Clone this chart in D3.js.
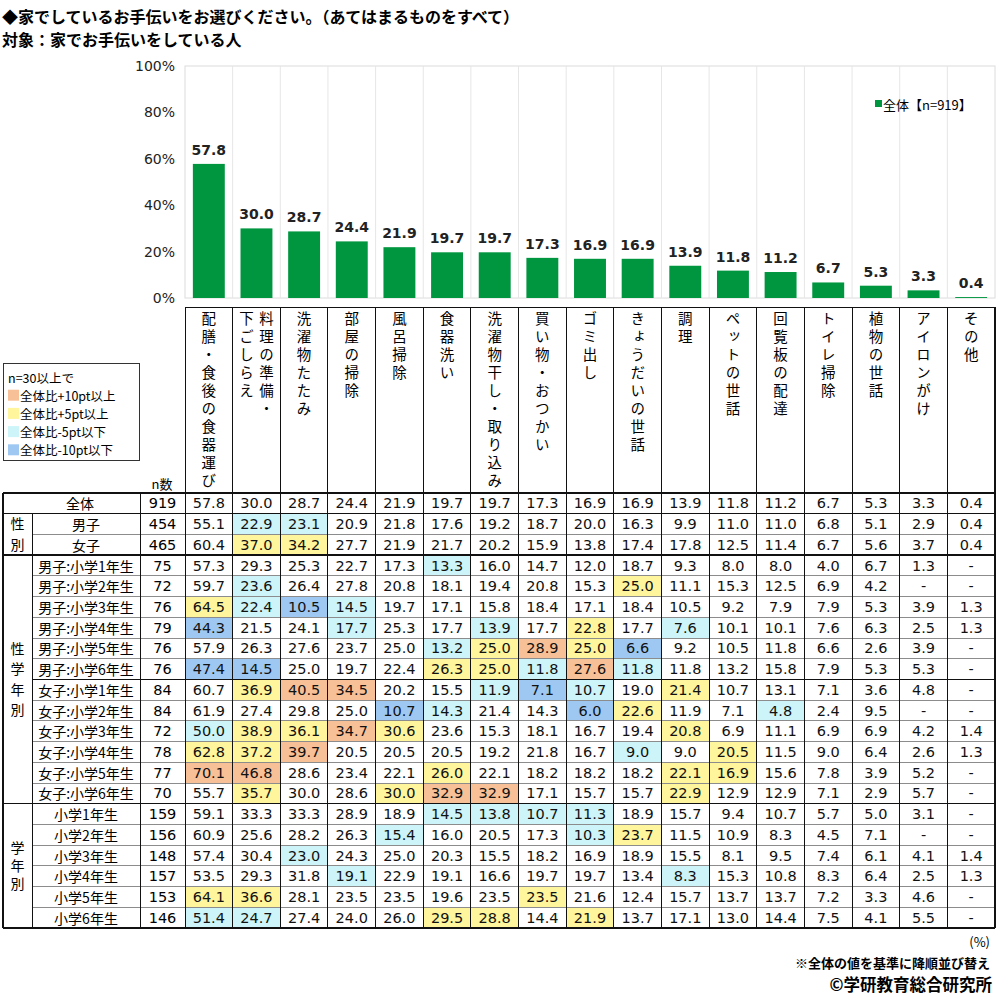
<!DOCTYPE html>
<html>
<head>
<meta charset="utf-8">
<script src="https://cdn.jsdelivr.net/npm/d3@7"></script>
<style>
  body { margin: 0; background: #fff; }
  svg { font-family: "Noto Sans CJK JP", "Noto Sans", sans-serif; }
  .num { font-family: "DejaVu Sans", "Noto Sans", sans-serif; }
  .vert { writing-mode: vertical-rl; }
</style>
</head>
<body>
<div id="chart"></div>
<script>
// categories, sorted by the total value
const categories = ["配膳・食後の食器運び", "料理の準備・下ごしらえ", "洗濯物たたみ", "部屋の掃除", "風呂掃除",
  "食器洗い", "洗濯物干し・取り込み", "買い物・おつかい", "ゴミ出し", "きょうだいの世話", "調理",
  "ペットの世話", "回覧板の配達", "トイレ掃除", "植物の世話", "アイロンがけ", "その他"]
// header columns; "|" splits a header into two vertical lines (right one first)
const headerLabels = ["配膳・食後の食器運び", "料理の準備・|下ごしらえ", "洗濯物たたみ", "部屋の掃除", "風呂掃除",
  "食器洗い", "洗濯物干し・取り込み", "買い物・おつかい", "ゴミ出し", "きょうだいの世話", "調理",
  "ペットの世話", "回覧板の配達", "トイレ掃除", "植物の世話", "アイロンがけ", "その他"]

const totalValues = [57.8, 30.0, 28.7, 24.4, 21.9, 19.7, 19.7, 17.3, 16.9, 16.9, 13.9, 11.8, 11.2, 6.7, 5.3, 3.3, 0.4]
const yTicks = [0, 20, 40, 60, 80, 100]

const rowLabels = ["全体", "男子", "女子",
  "男子:小学1年生", "男子:小学2年生", "男子:小学3年生", "男子:小学4年生", "男子:小学5年生", "男子:小学6年生",
  "女子:小学1年生", "女子:小学2年生", "女子:小学3年生", "女子:小学4年生", "女子:小学5年生", "女子:小学6年生",
  "小学1年生", "小学2年生", "小学3年生", "小学4年生", "小学5年生", "小学6年生"]
const rowN = [919, 454, 465, 75, 72, 76, 79, 76, 76, 84, 84, 72, 78, 77, 70, 159, 156, 148, 157, 153, 146]

// null = "-"
const rowValues = [
  totalValues,
  [55.1, 22.9, 23.1, 20.9, 21.8, 17.6, 19.2, 18.7, 20.0, 16.3, 9.9, 11.0, 11.0, 6.8, 5.1, 2.9, 0.4],
  [60.4, 37.0, 34.2, 27.7, 21.9, 21.7, 20.2, 15.9, 13.8, 17.4, 17.8, 12.5, 11.4, 6.7, 5.6, 3.7, 0.4],
  [57.3, 29.3, 25.3, 22.7, 17.3, 13.3, 16.0, 14.7, 12.0, 18.7, 9.3, 8.0, 8.0, 4.0, 6.7, 1.3, null],
  [59.7, 23.6, 26.4, 27.8, 20.8, 18.1, 19.4, 20.8, 15.3, 25.0, 11.1, 15.3, 12.5, 6.9, 4.2, null, null],
  [64.5, 22.4, 10.5, 14.5, 19.7, 17.1, 15.8, 18.4, 17.1, 18.4, 10.5, 9.2, 7.9, 7.9, 5.3, 3.9, 1.3],
  [44.3, 21.5, 24.1, 17.7, 25.3, 17.7, 13.9, 17.7, 22.8, 17.7, 7.6, 10.1, 10.1, 7.6, 6.3, 2.5, 1.3],
  [57.9, 26.3, 27.6, 23.7, 25.0, 13.2, 25.0, 28.9, 25.0, 6.6, 9.2, 10.5, 11.8, 6.6, 2.6, 3.9, null],
  [47.4, 14.5, 25.0, 19.7, 22.4, 26.3, 25.0, 11.8, 27.6, 11.8, 11.8, 13.2, 15.8, 7.9, 5.3, 5.3, null],
  [60.7, 36.9, 40.5, 34.5, 20.2, 15.5, 11.9, 7.1, 10.7, 19.0, 21.4, 10.7, 13.1, 7.1, 3.6, 4.8, null],
  [61.9, 27.4, 29.8, 25.0, 10.7, 14.3, 21.4, 14.3, 6.0, 22.6, 11.9, 7.1, 4.8, 2.4, 9.5, null, null],
  [50.0, 38.9, 36.1, 34.7, 30.6, 23.6, 15.3, 18.1, 16.7, 19.4, 20.8, 6.9, 11.1, 6.9, 6.9, 4.2, 1.4],
  [62.8, 37.2, 39.7, 20.5, 20.5, 20.5, 19.2, 21.8, 16.7, 9.0, 9.0, 20.5, 11.5, 9.0, 6.4, 2.6, 1.3],
  [70.1, 46.8, 28.6, 23.4, 22.1, 26.0, 22.1, 18.2, 18.2, 18.2, 22.1, 16.9, 15.6, 7.8, 3.9, 5.2, null],
  [55.7, 35.7, 30.0, 28.6, 30.0, 32.9, 32.9, 17.1, 15.7, 15.7, 22.9, 12.9, 12.9, 7.1, 2.9, 5.7, null],
  [59.1, 33.3, 33.3, 28.9, 18.9, 14.5, 13.8, 10.7, 11.3, 18.9, 15.7, 9.4, 10.7, 5.7, 5.0, 3.1, null],
  [60.9, 25.6, 28.2, 26.3, 15.4, 16.0, 20.5, 17.3, 10.3, 23.7, 11.5, 10.9, 8.3, 4.5, 7.1, null, null],
  [57.4, 30.4, 23.0, 24.3, 25.0, 20.3, 15.5, 18.2, 16.9, 18.9, 15.5, 8.1, 9.5, 7.4, 6.1, 4.1, 1.4],
  [53.5, 29.3, 31.8, 19.1, 22.9, 19.1, 16.6, 19.7, 19.7, 13.4, 8.3, 15.3, 10.8, 8.3, 6.4, 2.5, 1.3],
  [64.1, 36.6, 28.1, 23.5, 23.5, 19.6, 23.5, 23.5, 21.6, 12.4, 15.7, 13.7, 13.7, 7.2, 3.3, 4.6, null],
  [51.4, 24.7, 27.4, 24.0, 26.0, 29.5, 28.8, 14.4, 21.9, 13.7, 17.1, 13.0, 14.4, 7.5, 4.1, 5.5, null]
]

// highlight: o=+10pt, y=+5pt, c=-5pt, b=-10pt, .=none
const rowMarks = [
  ".................",
  ".cc..............",
  ".yy..............",
  ".....c...........",
  ".c.......y.......",
  "ycbc.............",
  "b..c..c.y.c......",
  ".....cyoyb.......",
  "bb...yycoc.......",
  ".yoo..cbc.y......",
  "....bc..by..c....",
  "cyyoy.....y......",
  "yyo......c.y.....",
  "oo...y....yy.....",
  ".y..yoo...y......",
  ".....cccc........",
  "....c...cy.......",
  "..c..............",
  "...c......c......",
  "yy.....y.........",
  "cc...yy.y........"
]

const groups = [
  { label: "", start: 0, end: 0, step: 0 },
  { label: "性別", start: 1, end: 2, step: 20.7 },
  { label: "性学年別", start: 3, end: 14, step: 20.5 },
  { label: "学年別", start: 15, end: 20, step: 18 }
]
// extra black separator inside a group (between 男子 and 女子 grades)
const blackSeparators = [9]

const legendItems = [
  { key: "o", label: "全体比+10pt以上" },
  { key: "y", label: "全体比+5pt以上" },
  { key: "c", label: "全体比-5pt以下" },
  { key: "b", label: "全体比-10pt以下" }
]

const markColor = { o: "#f8c097", y: "#fff59c", c: "#cdf5f9", b: "#9ec8f2" }
const green = "#00963f"

const W = 1000, H = 997
const left = 185, right = 995

const svg = d3.select("#chart").append("svg")
  .attr("width", W)
  .attr("height", H)

// titles
svg.append("text").attr("x", 2).attr("y", 15.5).attr("dominant-baseline", "central")
  .attr("font-size", 16).attr("font-weight", "bold")
  .text("◆家でしているお手伝いをお選びください。（あてはまるものをすべて）")
svg.append("text").attr("x", 2).attr("y", 39).attr("dominant-baseline", "central")
  .attr("font-size", 16).attr("font-weight", "bold")
  .text("対象：家でお手伝いをしている人")

// ---- bar chart ----
const x = d3.scaleBand().domain(categories).range([left, right])
const xBar = d3.scaleBand().domain(categories).range([left, right])
  .paddingInner(0.33).paddingOuter(0.165)
const y = d3.scaleLinear().domain([0, 100]).range([298, 66])

svg.append("rect")
  .attr("x", left).attr("y", y(100))
  .attr("width", right - left).attr("height", y(0) - y(100))
  .attr("fill", "none").attr("stroke", "#dcdcdc")

svg.append("g").selectAll("line")
  .data(categories.slice(1))
  .enter().append("line")
  .attr("x1", d => x(d)).attr("x2", d => x(d))
  .attr("y1", y(100)).attr("y2", y(0))
  .attr("stroke", "#e6e6e6")

const yAxis = svg.append("g")
  .attr("transform", "translate(" + left + ",0)")
  .call(d3.axisLeft(y).tickValues(yTicks).tickSize(0).tickPadding(10).tickFormat(d => d + "%"))
yAxis.select(".domain").remove()
yAxis.selectAll("text")
  .attr("class", "num")
  .attr("font-size", 14)
  .attr("font-family", null)
  .attr("fill", "#222")

svg.append("g").selectAll("rect")
  .data(totalValues)
  .enter().append("rect")
  .attr("x", (d, i) => xBar(categories[i]))
  .attr("y", d => y(d))
  .attr("width", xBar.bandwidth())
  .attr("height", d => y(0) - y(d))
  .attr("fill", green)

svg.append("g").selectAll("text")
  .data(totalValues)
  .enter().append("text")
  .attr("class", "num")
  .attr("x", (d, i) => x(categories[i]) + x.bandwidth() / 2)
  .attr("y", d => y(d) - 9)
  .attr("text-anchor", "middle")
  .attr("font-size", 14)
  .attr("font-weight", "bold")
  .attr("fill", "#222")
  .text(d => d.toFixed(1))

// legend inside the plot
svg.append("rect").attr("x", 875).attr("y", 100).attr("width", 7).attr("height", 7).attr("fill", green)
svg.append("text").attr("x", 883).attr("y", 104).attr("dominant-baseline", "central")
  .attr("font-size", 13).text("全体【n=919】")

// ---- column headers (vertical writing) ----
const headTop = 307, tableTop = 493, tableBottom = 928
const headFont = 14.5, charStep = 18

const headLabels = svg.append("g").selectAll("g")
  .data(headerLabels)
  .enter().append("g")
headLabels.each(function (d, i) {
  const cx = x(categories[i]) + x.bandwidth() / 2
  const lines = d.split("|")
  d3.select(this).selectAll("text")
    .data(lines)
    .enter().append("text")
    .attr("class", "vert")
    .attr("x", (line, j) => lines.length === 1 ? cx : cx + 10 - j * 20)
    .attr("y", headTop + 11 - headFont / 2)
    .attr("font-size", headFont)
    .attr("letter-spacing", charStep - headFont)
    .text(line => line)
})

svg.append("text").attr("x", 162).attr("y", 483).attr("text-anchor", "middle")
  .attr("dominant-baseline", "central").attr("font-size", 13).text("n数")

// colour legend box
const lgFont = 12.5, lgStep = 18.2
const lg = svg.append("g")
lg.append("rect").attr("x", 3.5).attr("y", 363.5).attr("width", 136).attr("height", 97)
  .attr("fill", "#fff").attr("stroke", "#333")
lg.append("text").attr("x", 8).attr("y", 377).attr("dominant-baseline", "central")
  .attr("font-size", lgFont).text("n=30以上で")
lg.selectAll("rect.key")
  .data(legendItems)
  .enter().append("rect")
  .attr("class", "key")
  .attr("x", 8).attr("y", (d, i) => 377 + (i + 1) * lgStep - 5.5)
  .attr("width", 11).attr("height", 11)
  .attr("fill", d => markColor[d.key])
lg.selectAll("text.key")
  .data(legendItems)
  .enter().append("text")
  .attr("class", "key")
  .attr("x", 20).attr("y", (d, i) => 377 + (i + 1) * lgStep)
  .attr("dominant-baseline", "central")
  .attr("font-size", lgFont)
  .text(d => d.label)

// ---- table ----
const rowY = d3.scaleBand().domain(d3.range(rowLabels.length)).range([tableTop, tableBottom])
const rh = rowY.bandwidth()

const cellData = rowValues.flatMap((vals, r) =>
  vals.map((v, i) => ({ r: r, cat: categories[i], v: v, mark: rowMarks[r][i] })))

svg.append("g").selectAll("rect")
  .data(cellData.filter(d => d.mark !== "."))
  .enter().append("rect")
  .attr("x", d => x(d.cat))
  .attr("y", d => rowY(d.r))
  .attr("width", x.bandwidth())
  .attr("height", rh)
  .attr("fill", d => markColor[d.mark])

// grid lines
const grid = svg.append("g").attr("shape-rendering", "crispEdges")
const groupStarts = groups.map(g => g.start).filter(s => s > 0)
d3.range(1, rowLabels.length).forEach(r => {
  const yy = rowY(r)
  const isGroup = groupStarts.includes(r)
  const isBlack = isGroup || blackSeparators.includes(r)
  grid.append("line")
    .attr("x1", isGroup ? 3 : 32).attr("x2", right)
    .attr("y1", yy).attr("y2", yy)
    .attr("stroke", isBlack ? "#111" : "#8c8c8c")
    .attr("stroke-width", isBlack ? 1.5 : 1)
})
grid.append("line").attr("x1", 3).attr("x2", right).attr("y1", tableTop).attr("y2", tableTop)
  .attr("stroke", "#111").attr("stroke-width", 1.5)
grid.append("line").attr("x1", 3).attr("x2", right).attr("y1", tableBottom).attr("y2", tableBottom)
  .attr("stroke", "#111").attr("stroke-width", 1.5)
grid.append("line").attr("x1", left).attr("x2", right).attr("y1", headTop).attr("y2", headTop)
  .attr("stroke", "#111")
grid.append("line").attr("x1", 3).attr("x2", 3).attr("y1", tableTop).attr("y2", tableBottom)
  .attr("stroke", "#111").attr("stroke-width", 1.5)
grid.append("line").attr("x1", 32).attr("x2", 32).attr("y1", rowY(1)).attr("y2", tableBottom)
  .attr("stroke", "#111")
grid.append("line").attr("x1", 140).attr("x2", 140).attr("y1", tableTop).attr("y2", tableBottom)
  .attr("stroke", "#111")
grid.selectAll("line.col")
  .data(categories)
  .enter().append("line")
  .attr("class", "col")
  .attr("x1", d => x(d)).attr("x2", d => x(d))
  .attr("y1", headTop).attr("y2", tableBottom)
  .attr("stroke", "#111")
grid.append("line").attr("x1", right).attr("x2", right).attr("y1", headTop).attr("y2", tableBottom)
  .attr("stroke", "#111").attr("stroke-width", 1.5)

// group labels (vertical writing, centred on their rows)
const groupFont = 14
svg.append("g").selectAll("text")
  .data(groups.filter(g => g.label))
  .enter().append("text")
  .attr("class", "vert")
  .attr("x", 17.5)
  .attr("y", g => {
    const mid = (rowY(g.start) + rowY(g.end) + rh) / 2
    const n = Array.from(g.label).length
    return mid - ((n - 1) * g.step + groupFont) / 2
  })
  .attr("font-size", groupFont)
  .attr("letter-spacing", g => g.step - groupFont)
  .text(g => g.label)

// row labels and n
const rows = svg.append("g")
rows.selectAll("text.label")
  .data(rowLabels)
  .enter().append("text")
  .attr("class", "label")
  .attr("x", (d, i) => i === 0 ? 80 : 86)
  .attr("y", (d, i) => rowY(i) + rh / 2)
  .attr("text-anchor", "middle")
  .attr("dominant-baseline", "central")
  .attr("font-size", 14)
  .text(d => d)
rows.selectAll("text.n")
  .data(rowN)
  .enter().append("text")
  .attr("class", "num")
  .attr("x", 162.5)
  .attr("y", (d, i) => rowY(i) + rh / 2)
  .attr("text-anchor", "middle")
  .attr("dominant-baseline", "central")
  .attr("font-size", 14.5)
  .text(d => d)

rows.selectAll("text.v")
  .data(cellData)
  .enter().append("text")
  .attr("class", "num v")
  .attr("x", d => x(d.cat) + x.bandwidth() / 2)
  .attr("y", d => rowY(d.r) + rh / 2)
  .attr("text-anchor", "middle")
  .attr("dominant-baseline", "central")
  .attr("font-size", 14.5)
  .attr("fill", "#111")
  .text(d => d.v === null ? "-" : d.v.toFixed(1))

// footnotes
svg.append("text").attr("x", 990).attr("y", 941).attr("text-anchor", "end")
  .attr("dominant-baseline", "central").attr("font-size", 13).text("(%)")
svg.append("text").attr("x", 990).attr("y", 962).attr("text-anchor", "end")
  .attr("dominant-baseline", "central").attr("font-size", 13).attr("font-weight", "bold")
  .text("※全体の値を基準に降順並び替え")
svg.append("text").attr("x", 992).attr("y", 984).attr("text-anchor", "end")
  .attr("dominant-baseline", "central").attr("font-size", 16.5).attr("font-weight", "bold")
  .text("©学研教育総合研究所")
</script>
</body>
</html>
